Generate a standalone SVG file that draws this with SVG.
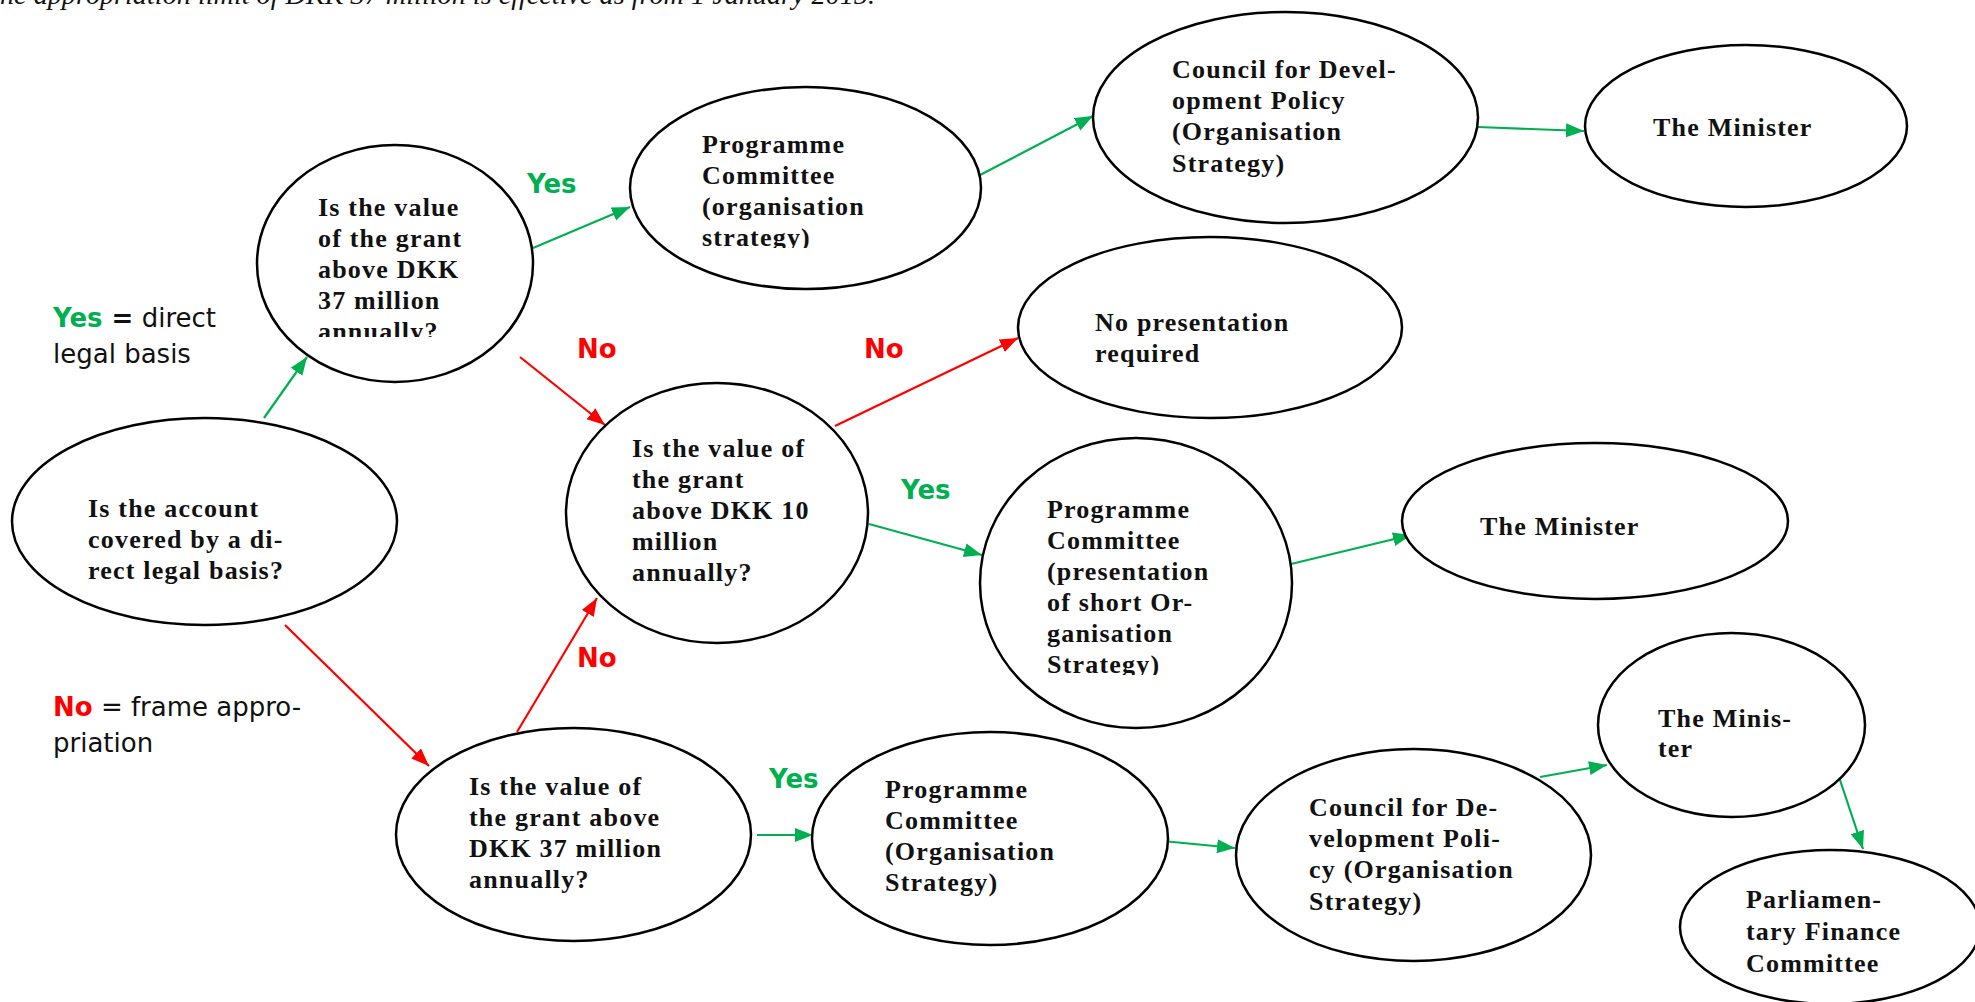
<svg xmlns="http://www.w3.org/2000/svg" width="1975" height="1002" viewBox="0 0 1975 1002">
<style>
.node ellipse{fill:#fff;stroke:#000;stroke-width:2.5}
.nt{font-family:"Liberation Serif","Times New Roman",serif;font-weight:bold;font-size:26px;letter-spacing:1.2px;fill:#111}
.lbl{font-family:"DejaVu Sans",Verdana,sans-serif;font-weight:bold;font-size:26px}
.leg{font-family:"DejaVu Sans",Verdana,sans-serif;font-size:26px;fill:#111}
.g{fill:#00B050}
.r{fill:#FF0000}
.cg{stroke:#00B050;stroke-width:2.2;fill:none;marker-end:url(#ag)}
.cr{stroke:#FF0000;stroke-width:2.2;fill:none;marker-end:url(#ar)}
.top{font-family:"Liberation Serif","Times New Roman",serif;font-style:italic;font-size:27px;fill:#111}
</style>
<defs>
<marker id="ag" markerUnits="userSpaceOnUse" markerWidth="20" markerHeight="16" refX="18" refY="7" orient="auto"><path d="M0,0 L18,7 L0,14 z" fill="#00B050"/></marker>
<marker id="ar" markerUnits="userSpaceOnUse" markerWidth="20" markerHeight="16" refX="18" refY="7" orient="auto"><path d="M0,0 L18,7 L0,14 z" fill="#FF0000"/></marker>
<clipPath id="clipB"><rect x="250" y="140" width="300" height="197"/></clipPath>
<clipPath id="clipPC1"><rect x="620" y="80" width="380" height="168"/></clipPath>
<clipPath id="clipPC2"><rect x="970" y="430" width="340" height="245"/></clipPath>
</defs>
<rect width="1975" height="1002" fill="#fff"/>
<text class="top" x="0" y="4" textLength="875" lengthAdjust="spacingAndGlyphs">he appropriation limit of DKK 37 million is effective as from 1 January 2015.</text>

<g id="connectors">
<line class="cg" x1="264" y1="418" x2="307" y2="357"/>
<line class="cg" x1="533" y1="248" x2="630" y2="207"/>
<line class="cr" x1="520" y1="357" x2="605" y2="425"/>
<line class="cg" x1="980" y1="175" x2="1093" y2="116"/>
<line class="cg" x1="1478" y1="127" x2="1584" y2="131"/>
<line class="cr" x1="835" y1="426" x2="1018" y2="338"/>
<line class="cg" x1="869" y1="524" x2="982" y2="555"/>
<line class="cg" x1="1291" y1="564" x2="1411" y2="535"/>
<line class="cr" x1="285" y1="625" x2="429" y2="766"/>
<line class="cr" x1="517" y1="732" x2="597" y2="598"/>
<line class="cg" x1="757" y1="835" x2="813" y2="835"/>
<line class="cg" x1="1142" y1="839" x2="1235" y2="848"/>
<line class="cg" x1="1540" y1="777" x2="1607" y2="765"/>
<line class="cg" x1="1837" y1="771" x2="1863" y2="849"/>
</g>

<g id="labels">
<text class="lbl g" x="527" y="193">Yes</text>
<text class="lbl r" x="577" y="358">No</text>
<text class="lbl r" x="864" y="358">No</text>
<text class="lbl g" x="901" y="499">Yes</text>
<text class="lbl r" x="577" y="667">No</text>
<text class="lbl g" x="769" y="788">Yes</text>
<text class="leg" x="53" y="327"><tspan class="lbl g">Yes</tspan><tspan font-weight="bold"> =</tspan> direct</text>
<text class="leg" x="53" y="363">legal basis</text>
<text class="leg" x="53" y="716"><tspan class="lbl r">No</tspan> = frame appro-</text>
<text class="leg" x="53" y="752">priation</text>
</g>

<g id="nodeA" class="node">
<ellipse cx="204.5" cy="521.5" rx="192.5" ry="103.5"/>
<text class="nt"><tspan x="88" y="517">Is the account</tspan><tspan x="88" y="548">covered by a di-</tspan><tspan x="88" y="579">rect legal basis?</tspan></text>
</g>

<g id="nodeB" class="node">
<ellipse cx="395" cy="263.5" rx="138" ry="118.5"/>
<text class="nt" clip-path="url(#clipB)"><tspan x="318" y="216">Is the value</tspan><tspan x="318" y="247">of the grant</tspan><tspan x="318" y="278">above DKK</tspan><tspan x="318" y="309">37 million</tspan><tspan x="318" y="340">annually?</tspan></text>
</g>

<g id="nodePC1" class="node">
<ellipse cx="805.5" cy="188" rx="175.5" ry="101"/>
<text class="nt" clip-path="url(#clipPC1)"><tspan x="702" y="153">Programme</tspan><tspan x="702" y="184">Committee</tspan><tspan x="702" y="215">(organisation</tspan><tspan x="702" y="246">strategy)</tspan></text>
</g>

<g id="nodeCDP1" class="node">
<ellipse cx="1285.5" cy="117.5" rx="192.5" ry="105.5"/>
<text class="nt"><tspan x="1172" y="78">Council for Devel-</tspan><tspan x="1172" y="109">opment Policy</tspan><tspan x="1172" y="140">(Organisation</tspan><tspan x="1172" y="172">Strategy)</tspan></text>
</g>

<g id="nodeMin1" class="node">
<ellipse cx="1746" cy="126" rx="161" ry="81"/>
<text class="nt" x="1653" y="136">The Minister</text>
</g>

<g id="nodeNoPres" class="node">
<ellipse cx="1210" cy="327.5" rx="192" ry="90.5"/>
<text class="nt"><tspan x="1095" y="331">No presentation</tspan><tspan x="1095" y="362">required</tspan></text>
</g>

<g id="nodeC" class="node">
<ellipse cx="717" cy="513" rx="151" ry="130"/>
<text class="nt"><tspan x="632" y="457">Is the value of</tspan><tspan x="632" y="488">the grant</tspan><tspan x="632" y="519">above DKK 10</tspan><tspan x="632" y="550">million</tspan><tspan x="632" y="581">annually?</tspan></text>
</g>

<g id="nodePC2" class="node">
<ellipse cx="1136" cy="583" rx="156" ry="145"/>
<text class="nt" clip-path="url(#clipPC2)"><tspan x="1047" y="518">Programme</tspan><tspan x="1047" y="549">Committee</tspan><tspan x="1047" y="580">(presentation</tspan><tspan x="1047" y="611">of short Or-</tspan><tspan x="1047" y="642">ganisation</tspan><tspan x="1047" y="673">Strategy)</tspan></text>
</g>

<g id="nodeMin2" class="node">
<ellipse cx="1595" cy="521" rx="193" ry="78"/>
<text class="nt" x="1480" y="535">The Minister</text>
</g>

<g id="nodeD" class="node">
<ellipse cx="573.5" cy="834.5" rx="177.5" ry="106.5"/>
<text class="nt"><tspan x="469" y="795">Is the value of</tspan><tspan x="469" y="826">the grant above</tspan><tspan x="469" y="857">DKK 37 million</tspan><tspan x="469" y="888">annually?</tspan></text>
</g>

<g id="nodePC3" class="node">
<ellipse cx="990" cy="838.5" rx="178" ry="106.5"/>
<text class="nt"><tspan x="885" y="798">Programme</tspan><tspan x="885" y="829">Committee</tspan><tspan x="885" y="860">(Organisation</tspan><tspan x="885" y="891">Strategy)</tspan></text>
</g>

<g id="nodeCDP2" class="node">
<ellipse cx="1413.5" cy="855" rx="177.5" ry="106"/>
<text class="nt"><tspan x="1309" y="816">Council for De-</tspan><tspan x="1309" y="847">velopment Poli-</tspan><tspan x="1309" y="878">cy (Organisation</tspan><tspan x="1309" y="910">Strategy)</tspan></text>
</g>

<g id="nodeMin3" class="node">
<ellipse cx="1731.5" cy="725" rx="133.5" ry="92"/>
<text class="nt"><tspan x="1658" y="727">The Minis-</tspan><tspan x="1658" y="757">ter</tspan></text>
</g>

<g id="nodePFC" class="node">
<ellipse cx="1830" cy="927" rx="150" ry="77"/>
<text class="nt"><tspan x="1746" y="908">Parliamen-</tspan><tspan x="1746" y="940">tary Finance</tspan><tspan x="1746" y="972">Committee</tspan></text>
</g>
</svg>
